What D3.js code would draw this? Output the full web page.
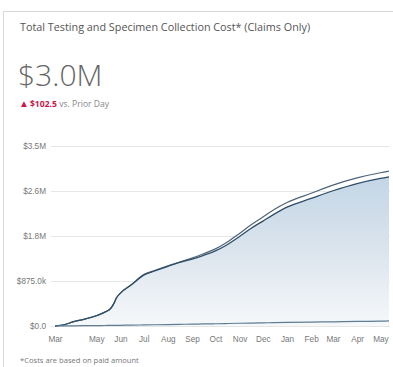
<!DOCTYPE html>
<html>
<head>
<meta charset="utf-8">
<script src="https://cdn.jsdelivr.net/npm/d3@7"></script>
<style>
  html, body { margin: 0; padding: 0; background: #fff; overflow: hidden; }
  svg { display: block; }
  .title { font-family: "Open Sans", sans-serif; font-size: 10.8px; fill: #555; }
  .big { font-family: "Open Sans", sans-serif; font-weight: 300; font-size: 30px; fill: #666; }
  .delta { font-family: "Open Sans", sans-serif; font-size: 8.6px; fill: #888; }
  .delta .up { fill: #c8194a; font-weight: 700; }
  .delta .tri { fill: #c8194a; font-size: 10px; }
  .axis text { font-family: "Liberation Sans", Arial, sans-serif; font-size: 8.2px; fill: #777; }
  .axis path, .axis line { display: none; }
  .grid line { stroke: #e6e6e6; stroke-width: 1; }
  .note { font-family: "Open Sans", sans-serif; font-size: 7.6px; fill: #777; }
</style>
</head>
<body>
<div id="chart"></div>
<script>
"use strict";

// ===== Data =====
const dates = [
  "2020-03-09", "2020-03-20", "2020-04-01", "2020-04-15", "2020-05-01", "2020-05-12",
  "2020-05-20", "2020-05-24", "2020-05-27", "2020-06-01", "2020-06-15", "2020-07-01",
  "2020-07-15", "2020-08-01", "2020-08-15", "2020-09-01", "2020-09-15", "2020-10-01",
  "2020-10-15", "2020-11-01", "2020-11-15", "2020-12-01", "2020-12-15", "2021-01-01",
  "2021-02-01", "2021-03-01", "2021-04-01", "2021-05-01", "2021-05-12"
];
// total cost (upper line)
const totalCost = [
  0.00, 0.02, 0.08, 0.13, 0.20, 0.27,
  0.35, 0.45, 0.55, 0.64, 0.80, 1.00,
  1.08, 1.17, 1.24, 1.32, 1.40, 1.50,
  1.62, 1.80, 1.96, 2.12, 2.26, 2.40,
  2.58, 2.74, 2.88, 2.98, 3.01
];
// filled series (lower of the two close lines)
const filledCost = [
  0.00, 0.02, 0.08, 0.13, 0.20, 0.27,
  0.35, 0.45, 0.55, 0.64, 0.80, 0.99,
  1.07, 1.16, 1.23, 1.30, 1.37, 1.46,
  1.57, 1.74, 1.89, 2.04, 2.17, 2.31,
  2.48, 2.63, 2.77, 2.87, 2.90
];
// small series along the bottom
const smallCost = [
  0.000, 0.002, 0.004, 0.006, 0.008, 0.010,
  0.011, 0.012, 0.013, 0.014, 0.017, 0.020,
  0.024, 0.028, 0.032, 0.036, 0.040, 0.044,
  0.048, 0.053, 0.057, 0.061, 0.065, 0.069,
  0.076, 0.082, 0.089, 0.095, 0.098
];

const yTicks = [0, 0.875, 1.75, 2.625, 3.5];
const yTickLabels = ["$0.0", "$875.0k", "$1.8M", "$2.6M", "$3.5M"];
const xTicks = [
  "2020-03-09", "2020-05-01", "2020-06-01", "2020-07-01", "2020-08-01", "2020-09-01",
  "2020-10-01", "2020-11-01", "2020-12-01", "2021-01-01", "2021-02-01", "2021-03-01",
  "2021-04-01", "2021-05-01"
];
const xTickLabels = ["Mar", "May", "Jun", "Jul", "Aug", "Sep", "Oct", "Nov", "Dec", "Jan", "Feb", "Mar", "Apr", "May"];

// ===== Setup =====
const W = 393, H = 367;
const parse = d3.utcParse("%Y-%m-%d");

const svg = d3.select("#chart").append("svg")
  .attr("width", W)
  .attr("height", H);

// card border
svg.append("line").attr("x1", 3.5).attr("x2", 3.5).attr("y1", 11).attr("y2", H)
  .attr("stroke", "#d8d8d8");
svg.append("line").attr("x1", 3).attr("x2", W).attr("y1", 11.5).attr("y2", 11.5)
  .attr("stroke", "#d8d8d8");

// header texts
svg.append("text").attr("class", "title").attr("x", 20).attr("y", 31)
  .text("Total Testing and Specimen Collection Cost* (Claims Only)");
svg.append("text").attr("class", "big").attr("x", 18).attr("y", 86).text("$3.0M");
const delta = svg.append("text").attr("class", "delta").attr("x", 19).attr("y", 107);
delta.append("tspan").attr("class", "tri").text("▲");
delta.append("tspan").attr("class", "up").attr("dx", 1).text("$102.5");
delta.append("tspan").text(" vs. Prior Day");

// ===== Scales =====
const x = d3.scaleUtc()
  .domain([parse("2020-03-09"), parse("2021-05-12")])
  .range([55, 389]);
const y = d3.scaleLinear()
  .domain([0, 3.5])
  .range([326, 146]);

// gridlines
svg.append("g").attr("class", "grid")
  .selectAll("line")
  .data(yTicks)
  .join("line")
  .attr("x1", 51).attr("x2", 390)
  .attr("y1", d => Math.round(y(d)) + 0.5)
  .attr("y2", d => Math.round(y(d)) + 0.5);

// y axis
svg.append("g").attr("class", "axis")
  .attr("transform", "translate(51,0)")
  .call(d3.axisLeft(y).tickValues(yTicks).tickSize(0).tickPadding(5)
    .tickFormat((d, i) => yTickLabels[i]));

// x axis
svg.append("g").attr("class", "axis")
  .attr("transform", "translate(0,332)")
  .call(d3.axisBottom(x).tickValues(xTicks.map(parse)).tickSize(0).tickPadding(4)
    .tickFormat((d, i) => xTickLabels[i]));

// ===== Series =====
const rows = dates.map((d, i) => ({
  date: parse(d), total: totalCost[i], filled: filledCost[i], small: smallCost[i]
}));

const defs = svg.append("defs");
const grad = defs.append("linearGradient")
  .attr("id", "fill-grad")
  .attr("gradientUnits", "userSpaceOnUse")
  .attr("x1", 0).attr("x2", 0)
  .attr("y1", y(3.5)).attr("y2", y(0));
grad.append("stop").attr("offset", "0%").attr("stop-color", "#b9d0e4");
grad.append("stop").attr("offset", "55%").attr("stop-color", "#d9e3ec");
grad.append("stop").attr("offset", "100%").attr("stop-color", "#f6f8fa");

const curve = d3.curveMonotoneX;

svg.append("path")
  .datum(rows)
  .attr("fill", "url(#fill-grad)")
  .attr("d", d3.area().curve(curve)
    .x(d => x(d.date)).y0(y(0)).y1(d => y(d.filled)));

// baseline gridline over the fill
svg.append("line")
  .attr("x1", 51).attr("x2", 390)
  .attr("y1", Math.round(y(0)) + 0.5).attr("y2", Math.round(y(0)) + 0.5)
  .attr("stroke", "#e6e6e6");

const lineGen = key => d3.line().curve(curve).x(d => x(d.date)).y(d => y(d[key]));

svg.append("path").datum(rows)
  .attr("fill", "none").attr("stroke", "#4e6479").attr("stroke-width", 1.2)
  .attr("d", lineGen("total"));
svg.append("path").datum(rows)
  .attr("fill", "none").attr("stroke", "#2f4d66").attr("stroke-width", 1.3)
  .attr("d", lineGen("filled"));
svg.append("path").datum(rows)
  .attr("fill", "none").attr("stroke", "#5d7c95").attr("stroke-width", 1.2)
  .attr("d", lineGen("small"));

// footnote
svg.append("text").attr("class", "note").attr("x", 20).attr("y", 363)
  .text("*Costs are based on paid amount");
</script>
</body>
</html>
